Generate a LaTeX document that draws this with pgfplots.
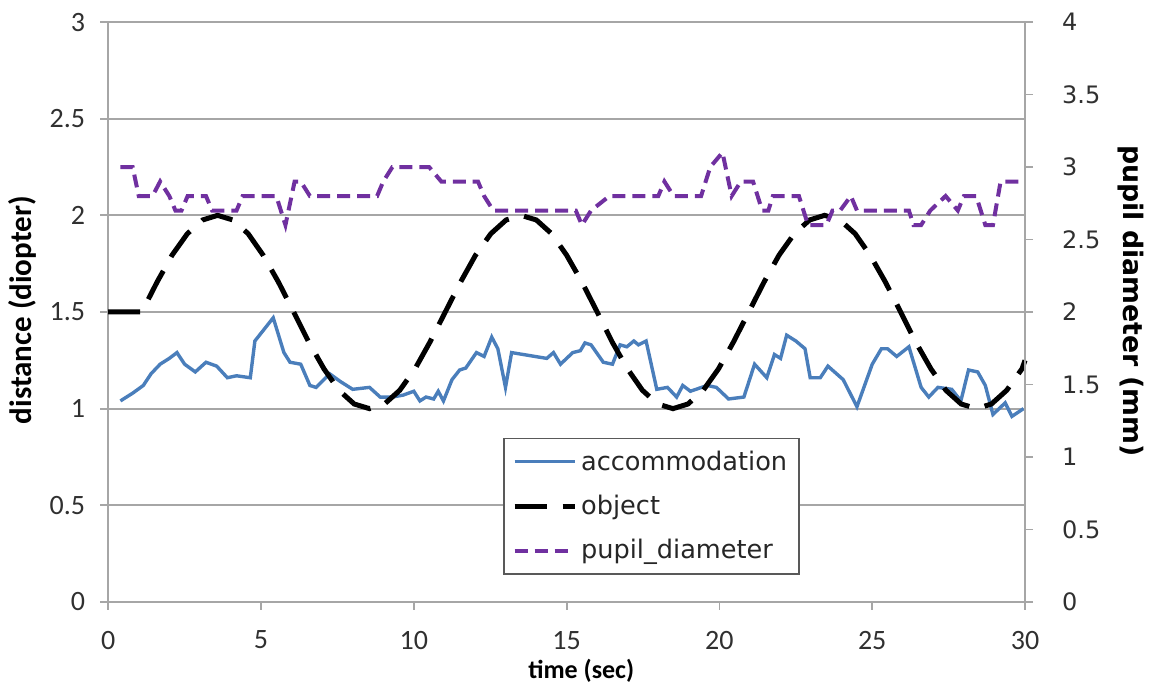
\documentclass[border=0pt]{standalone}
\usepackage{pgfplots}
\pgfplotsset{compat=1.18}
\usepackage{fontspec}
\setmainfont{Carlito}
\newfontfamily\dejavu{DejaVu Sans}
\definecolor{accblue}{HTML}{4A7EBB}
\definecolor{pupilpurple}{HTML}{7030A0}
\definecolor{gridgray}{HTML}{A6A6A6}
\definecolor{txt}{HTML}{303030}
\begin{document}
\begin{tikzpicture}
\pgfplotsset{
  common/.style={
    width=458.5pt, height=290pt, scale only axis,
    xmin=0, xmax=30,
    axis line style={gridgray, line width=0.9pt},
    tick style={gridgray, line width=0.9pt},
    tick align=outside, major tick length=4pt,
    /pgf/number format/assume math mode=true,
    clip=false,
  },
  objstyle/.style={black, line width=2.5pt, dash pattern=on 16pt off 8pt},
  accstyle/.style={accblue, line width=1.7pt},
  pupstyle/.style={pupilpurple, line width=2pt, dash pattern=on 6.5pt off 3.5pt},
}
\begin{axis}[common,
  ymin=0, ymax=3,
  xtick={0,5,...,30}, ytick={0,0.5,...,3},
  axis y line*=left, axis x line*=bottom,
  ymajorgrids, grid style={gridgray, line width=0.9pt},
  ticklabel style={font=\fontsize{14}{16}\selectfont, text=txt},
  yticklabel style={xshift=-4pt},
  xticklabel style={yshift=-7pt},
  xlabel={time (sec)}, ylabel={distance (diopter)},
  xlabel style={font=\bfseries\fontsize{13}{15}\selectfont, at={(axis description cs:0.516,-0.118)}, anchor=center},
  ylabel style={font=\bfseries\fontsize{15.5}{17}\selectfont, at={(axis description cs:-0.093,0.503)}, anchor=center},
]
\path (axis description cs:-0.118,1.038) (axis description cs:1.145,-0.153);
\addplot[accstyle] coordinates {
(0.4,1.04) (0.8,1.08) (1.15,1.12) (1.4,1.18) (1.7,1.23) (2.0,1.26) (2.25,1.29)
(2.5,1.23) (2.85,1.19) (3.2,1.24) (3.55,1.22) (3.9,1.16) (4.2,1.17) (4.65,1.16)
(4.8,1.35) (5.1,1.41) (5.4,1.47) (5.75,1.29) (5.95,1.24) (6.3,1.23) (6.6,1.12)
(6.8,1.11) (7.25,1.18) (7.6,1.14) (8.0,1.10) (8.55,1.11) (8.9,1.06) (9.3,1.06)
(9.65,1.07) (10.0,1.09) (10.2,1.04) (10.4,1.06) (10.65,1.05) (10.8,1.09) (10.97,1.04)
(11.25,1.15) (11.5,1.20) (11.7,1.21) (12.05,1.29) (12.3,1.27) (12.55,1.37) (12.75,1.31)
(13.0,1.11) (13.2,1.29) (14.35,1.26) (14.57,1.29) (14.8,1.23) (15.2,1.29) (15.45,1.30)
(15.6,1.34) (15.8,1.33) (16.2,1.24) (16.5,1.23) (16.75,1.33) (16.97,1.32) (17.2,1.35)
(17.35,1.33) (17.6,1.35) (17.95,1.10) (18.3,1.11) (18.6,1.06) (18.8,1.12) (19.05,1.09)
(19.6,1.12) (19.9,1.11) (20.3,1.05) (20.8,1.06) (21.15,1.23) (21.55,1.16) (21.8,1.28)
(22.0,1.26) (22.2,1.38) (22.5,1.35) (22.8,1.31) (22.97,1.16) (23.3,1.16) (23.55,1.22)
(24.05,1.15) (24.5,1.01) (25.0,1.23) (25.3,1.31) (25.5,1.31) (25.8,1.27) (26.2,1.32)
(26.6,1.11) (26.85,1.06) (27.15,1.11) (27.6,1.10) (27.9,1.04) (28.15,1.20) (28.45,1.19)
(28.7,1.12) (28.95,0.97) (29.35,1.03) (29.57,0.96) (29.95,1.00)
};
\addplot[objstyle] coordinates {
(0,1.5) (1.10,1.5) (1.60,1.655) (2.09,1.794) (2.59,1.905) (3.09,1.976) (3.58,2.0)
(4.08,1.976) (4.58,1.905) (5.07,1.794) (5.57,1.655) (6.07,1.5) (6.56,1.345) (7.06,1.206)
(7.55,1.095) (8.05,1.024) (8.55,1.0) (9.04,1.024) (9.54,1.095) (10.04,1.206) (10.53,1.345)
(11.03,1.5) (11.53,1.655) (12.02,1.794) (12.52,1.905) (13.02,1.976) (13.51,2.0) (14.01,1.976)
(14.51,1.905) (15.00,1.794) (15.50,1.655) (16.00,1.5) (16.49,1.345) (16.99,1.206) (17.48,1.095)
(17.98,1.024) (18.48,1.0) (18.97,1.024) (19.47,1.095) (19.97,1.206) (20.46,1.345) (20.96,1.5)
(21.46,1.655) (21.95,1.794) (22.45,1.905) (22.95,1.976) (23.44,2.0) (23.94,1.976) (24.44,1.905)
(24.93,1.794) (25.43,1.655) (25.93,1.5) (26.42,1.345) (26.92,1.206) (27.41,1.095) (27.91,1.024)
(28.41,1.0) (28.90,1.024) (29.40,1.095) (29.90,1.206) (30,1.25)
};
\end{axis}
\begin{axis}[common,
  ymin=0, ymax=4,
  ytick={0,0.5,...,4},
  axis y line*=right, axis x line=none,
  yticklabel style={font=\dejavu\fontsize{12}{14}\selectfont, text=txt, xshift=11pt},
  ylabel={pupil diameter (mm)},
  ylabel style={font=\dejavu\bfseries\fontsize{13.4}{15}\selectfont, at={(axis description cs:1.115,0.519)}, anchor=center, rotate=180},
  legend style={at={(axis description cs:0.431,0.047)}, anchor=south west,
    draw=black!65, line width=0.8pt, fill=white, font=\dejavu\fontsize{12.8}{15}\selectfont,
    inner xsep=4pt, inner ysep=4pt, row sep=7pt, text=black!85},
  legend cell align=left,
  legend image code/.code={\draw[#1] (0pt,0pt) -- (30pt,0pt);},
]
\addlegendimage{accstyle}
\addlegendentry{accommodation}
\addlegendimage{objstyle}
\addlegendentry{object}
\addplot[pupstyle] coordinates {
(0.4,3.0) (0.8,3.0) (1.0,2.8) (1.45,2.8) (1.7,2.9) (2.0,2.8) (2.2,2.7) (2.4,2.7)
(2.6,2.8) (3.2,2.8) (3.4,2.7) (4.2,2.7) (4.4,2.8) (5.5,2.8) (5.8,2.6) (6.1,2.9)
(6.3,2.9) (6.6,2.8) (8.8,2.8) (9.0,2.9) (9.3,3.0) (10.5,3.0) (10.9,2.9) (12.1,2.9)
(12.3,2.8) (12.6,2.7) (15.3,2.7) (15.5,2.6) (15.8,2.7) (16.4,2.8) (18.0,2.8) (18.2,2.9)
(18.5,2.8) (19.4,2.8) (19.7,3.0) (20.1,3.1) (20.4,2.8) (20.7,2.9) (21.1,2.9) (21.4,2.7)
(21.6,2.7) (21.75,2.8) (22.6,2.8) (22.9,2.6) (23.5,2.6) (23.7,2.7) (23.95,2.7) (24.3,2.8)
(24.5,2.7) (26.2,2.7) (26.35,2.6) (26.6,2.6) (26.9,2.7) (27.4,2.8) (27.8,2.7) (28.0,2.8)
(28.4,2.8) (28.7,2.6) (28.95,2.6) (29.2,2.9) (30,2.9)
};
\addlegendentry{pupil\_diameter}
\end{axis}
\end{tikzpicture}
\end{document}
